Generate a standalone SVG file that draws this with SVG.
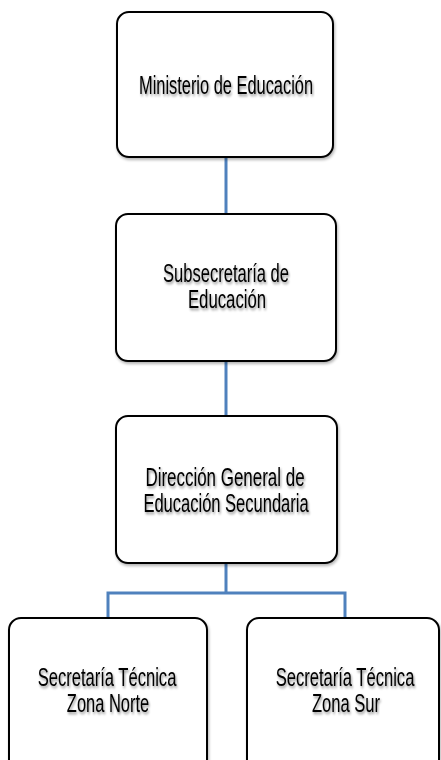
<svg xmlns="http://www.w3.org/2000/svg" width="441" height="760" viewBox="0 0 441 760">
<defs>
<filter id="ts" x="-10%" y="-30%" width="120%" height="180%">
<feGaussianBlur in="SourceAlpha" stdDeviation="1.5"/>
<feOffset dx="1" dy="2" result="b"/>
<feComponentTransfer><feFuncA type="linear" slope="0.45"/></feComponentTransfer>
<feMerge><feMergeNode/><feMergeNode in="SourceGraphic"/></feMerge>
</filter>
<filter id="bs" x="-5%" y="-5%" width="115%" height="115%">
<feGaussianBlur in="SourceAlpha" stdDeviation="1.5"/>
<feOffset dx="1" dy="2"/>
<feComponentTransfer><feFuncA type="linear" slope="0.3"/></feComponentTransfer>
<feMerge><feMergeNode/><feMergeNode in="SourceGraphic"/></feMerge>
</filter>
</defs>
<style>
.box{fill:#fff;stroke:#000;stroke-width:2}
.t{font-family:"Liberation Sans",Arial,sans-serif;font-size:25px;fill:#000;text-anchor:middle}
.c{fill:none;stroke:#4F81BD;stroke-width:3}
</style>
<rect width="441" height="760" fill="#fff"/>
<g id="connectors">
<line class="c" x1="226" y1="157" x2="226" y2="214"/>
<line class="c" x1="226" y1="361" x2="226" y2="416"/>
<path class="c" d="M226 563 V593 M108 618 V593 H345 V618"/>
</g>
<g id="ministerio">
<rect class="box" filter="url(#bs)" x="117" y="12" width="216" height="145" rx="12"/>
<text class="t" filter="url(#ts)" transform="translate(226 94) scale(0.68 1)" textLength="256" lengthAdjust="spacingAndGlyphs">Ministerio de Educación</text>
</g>
<g id="subsecretaria">
<rect class="box" filter="url(#bs)" x="116" y="214" width="220" height="147" rx="12"/>
<text class="t" filter="url(#ts)" transform="translate(226 282) scale(0.68 1)" textLength="185" lengthAdjust="spacingAndGlyphs">Subsecretaría de</text>
<text class="t" filter="url(#ts)" transform="translate(227 308) scale(0.68 1)" textLength="115" lengthAdjust="spacingAndGlyphs">Educación</text>
</g>
<g id="direccion">
<rect class="box" filter="url(#bs)" x="116" y="416" width="221" height="147" rx="12"/>
<text class="t" filter="url(#ts)" transform="translate(225 486) scale(0.68 1)" textLength="234" lengthAdjust="spacingAndGlyphs">Dirección General de</text>
<text class="t" filter="url(#ts)" transform="translate(226 512) scale(0.68 1)" textLength="243" lengthAdjust="spacingAndGlyphs">Educación Secundaria</text>
</g>
<g id="zona-norte">
<path class="box" filter="url(#bs)" d="M9 760 V630 A12 12 0 0 1 21 618 H195 A12 12 0 0 1 207 630 V760"/>
<text class="t" filter="url(#ts)" transform="translate(107 686) scale(0.68 1)" textLength="204" lengthAdjust="spacingAndGlyphs">Secretaría Técnica</text>
<text class="t" filter="url(#ts)" transform="translate(108 712) scale(0.68 1)" textLength="121" lengthAdjust="spacingAndGlyphs">Zona Norte</text>
</g>
<g id="zona-sur">
<path class="box" filter="url(#bs)" d="M247 760 V630 A12 12 0 0 1 259 618 H427 A12 12 0 0 1 439 630 V760"/>
<text class="t" filter="url(#ts)" transform="translate(345 686) scale(0.68 1)" textLength="204" lengthAdjust="spacingAndGlyphs">Secretaría Técnica</text>
<text class="t" filter="url(#ts)" transform="translate(346 712) scale(0.68 1)" textLength="100" lengthAdjust="spacingAndGlyphs">Zona Sur</text>
</g>
</svg>
